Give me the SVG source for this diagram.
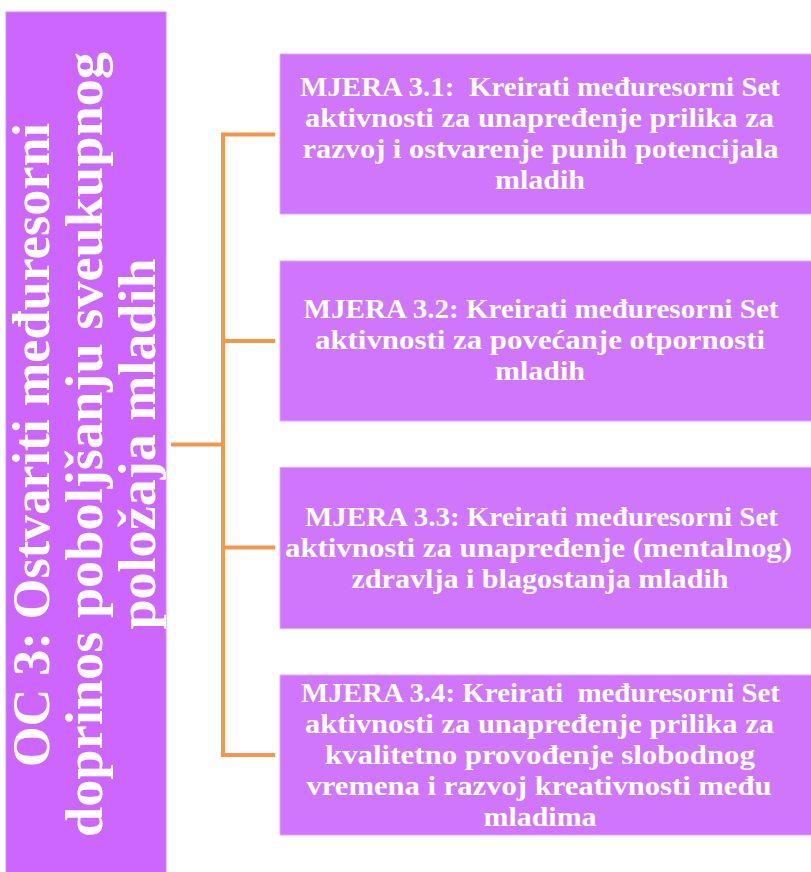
<svg xmlns="http://www.w3.org/2000/svg" width="811" height="872" viewBox="0 0 811 872">
<style>
  .goal { fill: #CC66FF; stroke: #D68AFF; stroke-width: 1; }
  .box { fill: #D076FD; stroke: #E2A9FC; stroke-width: 1; }
  .conn { fill: none; stroke: #F79646; stroke-width: 4; stroke-linejoin: miter; stroke-linecap: butt; }
  .t { font-family: "Liberation Serif", "Times New Roman", serif; font-weight: bold; fill: #FFFFFF; text-anchor: middle; white-space: pre; }
  .gt { font-size: 52px; }
  .bt { font-size: 28px; }
</style>
<rect width="811" height="872" fill="#FFFFFF"/>
<g id="connectors">
  <path class="conn" d="M275,134.5 H223 V755 H275"/>
  <path class="conn" d="M223,341 H275"/>
  <path class="conn" d="M223,547.5 H275"/>
  <path class="conn" d="M171,444.5 H223"/>
</g>
<g id="goal">
  <rect class="goal" x="6" y="12" width="160" height="875"/>
  <text class="t gt" transform="translate(49,445) rotate(-90)" x="0" y="0" textLength="644" lengthAdjust="spacingAndGlyphs">OC 3: Ostvariti međuresorni</text>
  <text class="t gt" transform="translate(102,444.5) rotate(-90)" x="0" y="0" textLength="785" lengthAdjust="spacingAndGlyphs">doprinos poboljšanju sveukupnog</text>
  <text class="t gt" transform="translate(155,444) rotate(-90)" x="0" y="0" textLength="371" lengthAdjust="spacingAndGlyphs">položaja mladih</text>
</g>
<g id="mjera-3-1">
  <rect class="box" x="280" y="54" width="540" height="160"/>
  <text class="t bt" x="540" y="95.5" textLength="480" lengthAdjust="spacingAndGlyphs">MJERA 3.1:  Kreirati međuresorni Set</text>
  <text class="t bt" x="539.5" y="126.5" textLength="469" lengthAdjust="spacingAndGlyphs">aktivnosti za unapređenje prilika za</text>
  <text class="t bt" x="540.5" y="157.5" textLength="476" lengthAdjust="spacingAndGlyphs">razvoj i ostvarenje punih potencijala</text>
  <text class="t bt" x="540" y="188.5" textLength="90" lengthAdjust="spacingAndGlyphs">mladih</text>
</g>
<g id="mjera-3-2">
  <rect class="box" x="280" y="261" width="540" height="160"/>
  <text class="t bt" x="541" y="318" textLength="475" lengthAdjust="spacingAndGlyphs">MJERA 3.2: Kreirati međuresorni Set</text>
  <text class="t bt" x="540" y="349" textLength="450" lengthAdjust="spacingAndGlyphs">aktivnosti za povećanje otpornosti</text>
  <text class="t bt" x="540" y="380" textLength="90" lengthAdjust="spacingAndGlyphs">mladih</text>
</g>
<g id="mjera-3-3">
  <rect class="box" x="280" y="467.5" width="540" height="161"/>
  <text class="t bt" x="541.5" y="525.5" textLength="473" lengthAdjust="spacingAndGlyphs">MJERA 3.3: Kreirati međuresorni Set</text>
  <text class="t bt" x="538.5" y="556.5" textLength="507" lengthAdjust="spacingAndGlyphs">aktivnosti za unapređenje (mentalnog)</text>
  <text class="t bt" x="540" y="587.5" textLength="377" lengthAdjust="spacingAndGlyphs">zdravlja i blagostanja mladih</text>
</g>
<g id="mjera-3-4">
  <rect class="box" x="280" y="675" width="540" height="160"/>
  <text class="t bt" x="540.5" y="702" textLength="479" lengthAdjust="spacingAndGlyphs">MJERA 3.4: Kreirati  međuresorni Set</text>
  <text class="t bt" x="539.5" y="733" textLength="469" lengthAdjust="spacingAndGlyphs">aktivnosti za unapređenje prilika za</text>
  <text class="t bt" x="540" y="764" textLength="430" lengthAdjust="spacingAndGlyphs">kvalitetno provođenje slobodnog</text>
  <text class="t bt" x="539" y="795" textLength="465" lengthAdjust="spacingAndGlyphs">vremena i razvoj kreativnosti među</text>
  <text class="t bt" x="540" y="826" textLength="113" lengthAdjust="spacingAndGlyphs">mladima</text>
</g>
</svg>
